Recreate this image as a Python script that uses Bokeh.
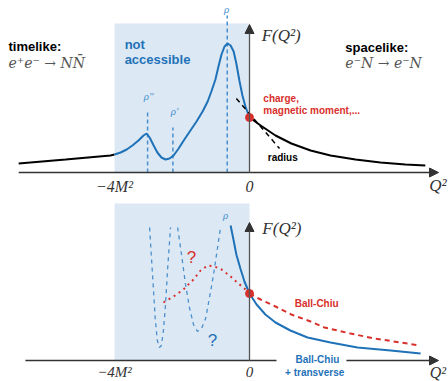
from bokeh.plotting import figure
from bokeh.layouts import column
from bokeh.models import Range1d, Arrow, NormalHead
from bokeh.core.properties import value
from bokeh.embed import file_html
from bokeh.resources import INLINE

# ---------------- top panel data (Q^2 in units of M^2, F arbitrary) ----------
time_q2 = [-6.84, -5.45, -4.12, -4.00]
time_f = [0.09, 0.13, 0.17, 0.18]

res_q2 = [-4.00, -3.82, -3.64, -3.47, -3.29, -3.14, -3.05, -2.96, -2.84, -2.73,
          -2.61, -2.49, -2.37, -2.25, -2.10, -1.93, -1.75, -1.57, -1.39, -1.24,
          -1.13, -1.01, -0.92, -0.83, -0.74, -0.65, -0.56, -0.47, -0.39, -0.30,
          -0.21, -0.12, 0.00]
res_f = [0.18, 0.20, 0.23, 0.27, 0.32, 0.37, 0.39, 0.35, 0.27, 0.20,
         0.15, 0.13, 0.14, 0.17, 0.24, 0.33, 0.42, 0.51, 0.61, 0.71,
         0.81, 0.93, 1.06, 1.18, 1.26, 1.29, 1.27, 1.21, 1.09, 0.92,
         0.77, 0.66, 0.55]

space_q2 = [0.00, 0.33, 0.77, 1.24, 1.81, 2.40, 3.14, 3.88, 4.62, 5.21]
space_f = [0.55, 0.47, 0.37, 0.29, 0.22, 0.17, 0.13, 0.10, 0.08, 0.07]

radius_q2 = [-0.39, 0.89]
radius_f = [0.74, 0.24]

rho_q2 = [-3.02, -2.27, -0.66]
rho_top = [0.60, 0.45, 1.57]
rho_labels = ["ρ″", "ρ′", "ρ"]
rho_label_q2 = [-2.99, -2.22, -0.68]
rho_label_f = [0.77, 0.62, 1.64]

# ---------------- bottom panel data ----------------
bc_tr_q2 = [-0.56, -0.47, -0.39, -0.27, -0.15, 0.00, 0.21, 0.47, 0.77, 1.21,
            1.72, 2.40, 3.20, 4.18, 5.07]
bc_tr_f = [1.35, 1.20, 1.06, 0.92, 0.79, 0.67, 0.56, 0.46, 0.38, 0.30,
           0.23, 0.18, 0.13, 0.10, 0.07]

bc_q2 = [0.00, 0.33, 0.77, 1.24, 1.81, 2.22, 2.99, 3.70, 4.47, 5.04]
bc_f = [0.67, 0.61, 0.54, 0.46, 0.39, 0.33, 0.27, 0.22, 0.18, 0.15]

bc_tl_q2 = [-2.55, -2.25, -1.96, -1.66, -1.45, -1.24, -1.04, -0.83, -0.56, -0.33, -0.15, 0.00]
bc_tl_f = [0.58, 0.64, 0.71, 0.81, 0.90, 0.95, 0.94, 0.91, 0.84, 0.77, 0.72, 0.67]

v_q2 = [-2.96, -2.90, -2.84, -2.79, -2.73, -2.67, -2.61, -2.55, -2.49, -2.43, -2.34]
v_f = [1.33, 1.00, 0.68, 0.40, 0.20, 0.13, 0.15, 0.30, 0.55, 0.90, 1.33]

u_q2 = [-2.13, -2.01, -1.90, -1.78, -1.66, -1.54, -1.42, -1.30, -1.19, -1.07, -0.95, -0.86]
u_f = [1.33, 1.05, 0.77, 0.53, 0.36, 0.29, 0.32, 0.42, 0.62, 0.85, 1.12, 1.33]

tick_q2 = [-4.0, 0.0]
tick_labels = ["−4M²", "0"]

BLUE = "#1f72b8"
LBLUE = "#4a90cf"
RED = "#d8302c"
SHADE = "#dce8f4"
AX = "#333333"
SANS = value("Liberation Sans")
SERIF = value("Liberation Serif")
DSERIF = value("DejaVu Serif")

XR = (-7.378, 5.896)


def base(h, yr):
    p = figure(width=448, height=h, x_range=Range1d(*XR), y_range=Range1d(*yr),
               output_backend="svg", toolbar_location=None, min_border=0,
               x_axis_type=None, y_axis_type=None)
    p.grid.visible = False
    p.outline_line_color = None
    p.background_fill_color = "white"
    p.border_fill_color = "white"
    return p


def txt(p, x, y, s, size, color="black", font=SANS, style="bold", align="left"):
    p.text(x=[x], y=[y], text=[s], text_font=font, text_font_size=f"{size}px",
           text_font_style=style, text_color=color, text_align=align,
           text_baseline="middle")


def head():
    return NormalHead(size=9, fill_color=AX, line_color=AX)


# ---------------- top ----------------
p1 = base(197, (-0.25, 1.72))
p1.quad(left=-4, right=0, bottom=0, top=1.49, fill_color=SHADE, line_color=None)
for xq, top in zip(rho_q2, rho_top):
    p1.line([xq, xq], [0, top], line_color=LBLUE, line_width=1.5, line_dash="4 3")
p1.text(x=rho_label_q2, y=rho_label_f, text=rho_labels, text_font=SERIF,
        text_font_style="italic", text_font_size="11px", text_color=LBLUE,
        text_align="center", text_baseline="middle")
p1.add_layout(Arrow(end=head(), x_start=-6.84, y_start=0, x_end=5.60, y_end=0,
                    line_color=AX, line_width=1.5))
p1.add_layout(Arrow(end=head(), x_start=0, y_start=0, x_end=0, y_end=1.48,
                    line_color="#555555", line_width=1.3))
p1.line(time_q2, time_f, line_color="black", line_width=2)
p1.line(res_q2, res_f, line_color=BLUE, line_width=2)
p1.line(space_q2, space_f, line_color="black", line_width=2)
p1.line(radius_q2, radius_f, line_color="black", line_width=1.5, line_dash="5 4")
p1.scatter([0], [0.55], size=8, color=RED)

txt(p1, -7.14, 1.26, "timelike:", 13)
txt(p1, -7.14, 1.10, "e⁺e⁻ → NN̄", 14, color="#555555", font=DSERIF, style="italic")
txt(p1, -3.70, 1.28, "not", 13, color=BLUE)
txt(p1, -3.70, 1.13, "accessible", 13, color=BLUE)
txt(p1, 0.36, 1.37, "F(Q²)", 17, color=AX, font=SERIF, style="italic")
txt(p1, 2.84, 1.25, "spacelike:", 13)
txt(p1, 2.84, 1.10, "e⁻N → e⁻N", 14, color="#555555", font=DSERIF, style="italic")
txt(p1, 0.41, 0.74, "charge,", 10, color=RED)
txt(p1, 0.41, 0.62, "magnetic moment,...", 10, color=RED)
txt(p1, 0.54, 0.15, "radius", 10)
for xq, lab in zip(tick_q2, tick_labels):
    txt(p1, xq, -0.14, lab, 16, color=AX, font=SERIF, style="italic", align="center")
txt(p1, 5.58, -0.13, "Q²", 17, color=AX, font=SERIF, style="italic", align="center")

# ---------------- bottom ----------------
p2 = base(184, (-0.21, 1.63))
p2.quad(left=-4, right=0, bottom=0, top=1.57, fill_color=SHADE, line_color=None)
p2.line([-6.64, 0.80], [0, 0], line_color=AX, line_width=1.5)
p2.add_layout(Arrow(end=head(), x_start=2.87, y_start=0, x_end=5.60, y_end=0,
                    line_color=AX, line_width=1.5))
p2.add_layout(Arrow(end=head(), x_start=0, y_start=0, x_end=0, y_end=1.38,
                    line_color="#555555", line_width=1.3))
p2.line(v_q2, v_f, line_color=LBLUE, line_width=1.3, line_dash="4 4")
p2.line(u_q2, u_f, line_color=LBLUE, line_width=1.3, line_dash="4 4")
p2.line(bc_tl_q2, bc_tl_f, line_color=RED, line_width=2, line_dash="2 4")
p2.line(bc_q2, bc_f, line_color=RED, line_width=2, line_dash="5 4")
p2.line(bc_tr_q2, bc_tr_f, line_color=BLUE, line_width=2)
p2.scatter([0], [0.67], size=8, color=RED)

txt(p2, -0.71, 1.46, "ρ", 11, color=LBLUE, font=SERIF, style="italic", align="center")
txt(p2, 0.38, 1.32, "F(Q²)", 17, color=AX, font=SERIF, style="italic")
txt(p2, -1.72, 1.03, "?", 17, color=RED, style="normal", align="center")
txt(p2, -1.10, 0.20, "?", 17, color=BLUE, style="normal", align="center")
txt(p2, 1.99, 0.57, "Ball-Chiu", 10, color=RED, align="center")
txt(p2, 2.01, 0.01, "Ball-Chiu", 10, color=BLUE, align="center")
txt(p2, 1.93, -0.12, "+ transverse", 10, color=BLUE, align="center")
for xq, lab in zip(tick_q2, tick_labels):
    txt(p2, xq, -0.115, lab, 15, color=AX, font=SERIF, style="italic", align="center")
txt(p2, 5.58, -0.115, "Q²", 16, color=AX, font=SERIF, style="italic", align="center")

layout = column(p1, p2, spacing=0)
open("out.html", "w").write(file_html(layout, INLINE))
